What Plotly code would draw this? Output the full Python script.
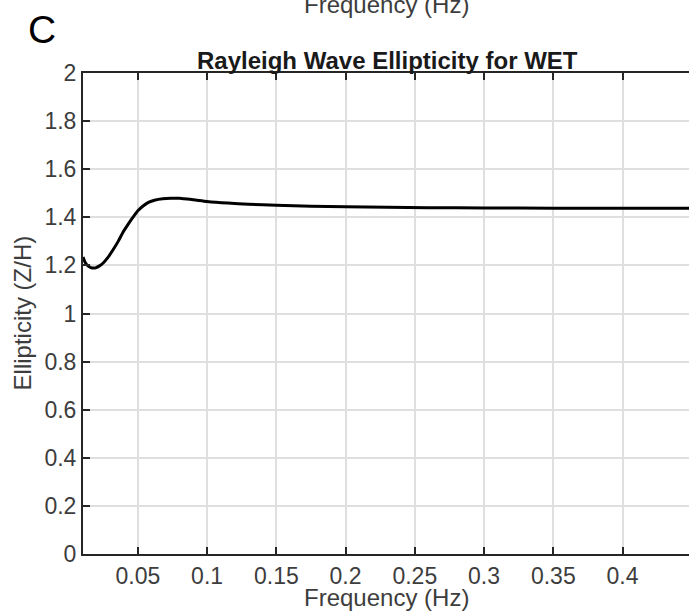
import plotly.graph_objects as go

freq = [0.0104, 0.012, 0.014, 0.016, 0.018, 0.020, 0.022, 0.025, 0.028, 0.032,
        0.036, 0.039, 0.042, 0.045, 0.048, 0.050, 0.054, 0.058, 0.062, 0.068,
        0.074, 0.080, 0.090, 0.100, 0.115, 0.130, 0.150, 0.175, 0.200, 0.230,
        0.260, 0.300, 0.350, 0.400, 0.450]
ellip = [1.235, 1.212, 1.198, 1.191, 1.189, 1.191, 1.197, 1.210, 1.230, 1.264,
         1.302, 1.335, 1.362, 1.388, 1.412, 1.427, 1.448, 1.463, 1.471, 1.477,
         1.479, 1.479, 1.473, 1.466, 1.459, 1.454, 1.450, 1.446, 1.444, 1.442,
         1.440, 1.439, 1.438, 1.438, 1.438]

x_ticks = [0.05, 0.1, 0.15, 0.2, 0.25, 0.3, 0.35, 0.4]
x_labels = ["0.05", "0.1", "0.15", "0.2", "0.25", "0.3", "0.35", "0.4"]
y_ticks = [0, 0.2, 0.4, 0.6, 0.8, 1.0, 1.2, 1.4, 1.6, 1.8, 2.0]
y_labels = ["0", "0.2", "0.4", "0.6", "0.8", "1", "1.2", "1.4", "1.6", "1.8", "2"]

FONT = "Liberation Sans, Arial, Helvetica, sans-serif"
AX = "#262626"
LBL = "#3d3d3d"

fig = go.Figure()
fig.add_trace(go.Scatter(x=freq, y=ellip, mode="lines",
                         line=dict(color="black", width=3, shape="spline", smoothing=0.6),
                         showlegend=False, hoverinfo="skip"))

fig.update_layout(
    width=689, height=613,
    margin=dict(l=83, r=0, t=73, b=59),
    paper_bgcolor="white", plot_bgcolor="white",
    font=dict(family=FONT, size=23, color=LBL),
    xaxis=dict(range=[0.0104, 0.448], tickvals=x_ticks, ticktext=x_labels,
               showgrid=True, gridcolor="#dfdfdf", gridwidth=2,
               showline=True, linecolor=AX, linewidth=2, mirror="ticks",
               ticks="inside", ticklen=7, tickwidth=2, tickcolor=AX,
               tickfont=dict(family=FONT, size=23, color=LBL),
               zeroline=False, fixedrange=True),
    yaxis=dict(range=[0, 2], tickvals=y_ticks, ticktext=y_labels,
               showgrid=True, gridcolor="#dfdfdf", gridwidth=2,
               showline=True, linecolor=AX, linewidth=2, mirror=False,
               ticks="inside", ticklen=7, tickwidth=2, tickcolor=AX,
               tickfont=dict(family=FONT, size=23, color=LBL),
               zeroline=False, fixedrange=True),
    yaxis2=dict(overlaying="y", side="right", range=[0, 2], tickvals=y_ticks,
                showticklabels=False, showgrid=False, showline=False, zeroline=False,
                ticks="inside", ticklen=7, tickwidth=2, tickcolor=AX, fixedrange=True),
    annotations=[
        dict(text="<b>Rayleigh Wave Ellipticity for WET</b>", xref="paper", yref="paper",
             x=0.502, y=1.027, xanchor="center", yanchor="middle", showarrow=False,
             font=dict(family=FONT, size=24, color="#1a1a1a")),
        dict(text="Frequency (Hz)", xref="paper", yref="paper",
             x=0.501, y=-0.0894, xanchor="center", yanchor="middle", showarrow=False,
             font=dict(family=FONT, size=24, color=LBL)),
        dict(text="Ellipticity (Z/H)", xref="paper", yref="paper",
             x=-0.100, y=0.501, xanchor="center", yanchor="middle", textangle=-90,
             showarrow=False, font=dict(family=FONT, size=24, color=LBL)),
        dict(text="Frequency (Hz)", xref="paper", yref="paper",
             x=0.501, y=1.143, xanchor="center", yanchor="middle", showarrow=False,
             font=dict(family=FONT, size=24, color=LBL)),
        dict(text="C", xref="paper", yref="paper",
             x=(42 - 83) / 606, y=1 + (73 - 29) / 481, xanchor="center", yanchor="middle",
             showarrow=False, font=dict(family=FONT, size=39, color="black")),
    ],
)

fig.write_html("out.html", config={"displayModeBar": False},
               post_script="document.body.style.margin='0';document.body.style.padding='0';")
